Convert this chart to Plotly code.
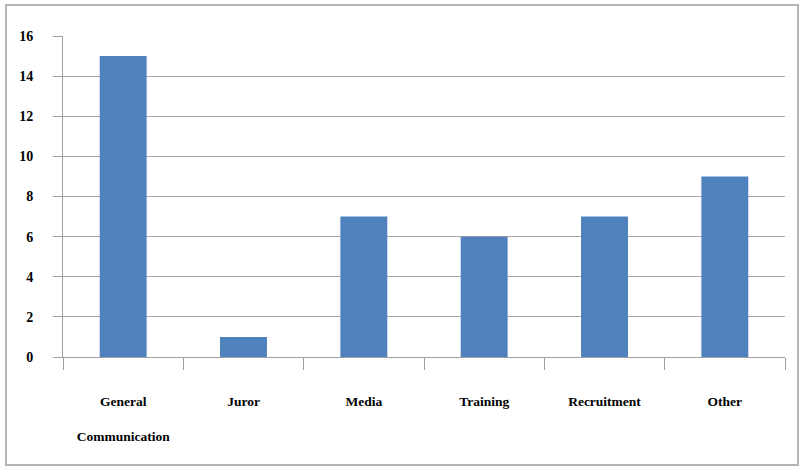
import plotly.graph_objects as go

categories = ["General<br><br>Communication", "Juror", "Media", "Training", "Recruitment", "Other"]
values = [15, 1, 7, 6, 7, 9]
y_ticks = [0, 2, 4, 6, 8, 10, 12, 14, 16]

W, H = 799, 466
L, R, T, B = 63, 14, 36, 109
pw, ph = W - L - R, H - T - B

font_family = "Liberation Serif"

fig = go.Figure(go.Bar(x=categories, y=values, marker=dict(color="#4F81BD", line=dict(width=0)),
                       width=0.39))

fig.update_layout(
    width=W, height=H,
    margin=dict(l=L, r=R, t=T, b=B),
    paper_bgcolor="white", plot_bgcolor="white",
    showlegend=False,
    font=dict(family=font_family, size=14, color="black"),
)
fig.update_xaxes(
    type="category", tickson="boundaries", ticks="outside", ticklen=12, tickcolor="#A0A0A0",
    showline=True, linecolor="#A0A0A0", linewidth=1, showgrid=False,
    ticklabelstandoff=32, tickfont=dict(family=font_family, size=13.5, weight="bold"),
)
fig.update_yaxes(
    range=[0, 16], tickvals=y_ticks, ticks="outside", ticklen=9, tickcolor="#A0A0A0",
    showline=True, linecolor="#A0A0A0", linewidth=1,
    showgrid=True, gridcolor="#A8A8A8", gridwidth=1, zeroline=False,
    ticklabelstandoff=17, tickfont=dict(family=font_family, size=14, weight="bold"),
)

def px_x(p):
    return (p - L) / pw

def px_y(p):
    return (H - B - p) / ph

fig.add_shape(type="rect", xref="paper", yref="paper",
              x0=px_x(6), x1=px_x(798), y0=px_y(465), y1=px_y(5),
              line=dict(color="#B4B4B4", width=2), layer="below")

fig.write_html("out.html")
